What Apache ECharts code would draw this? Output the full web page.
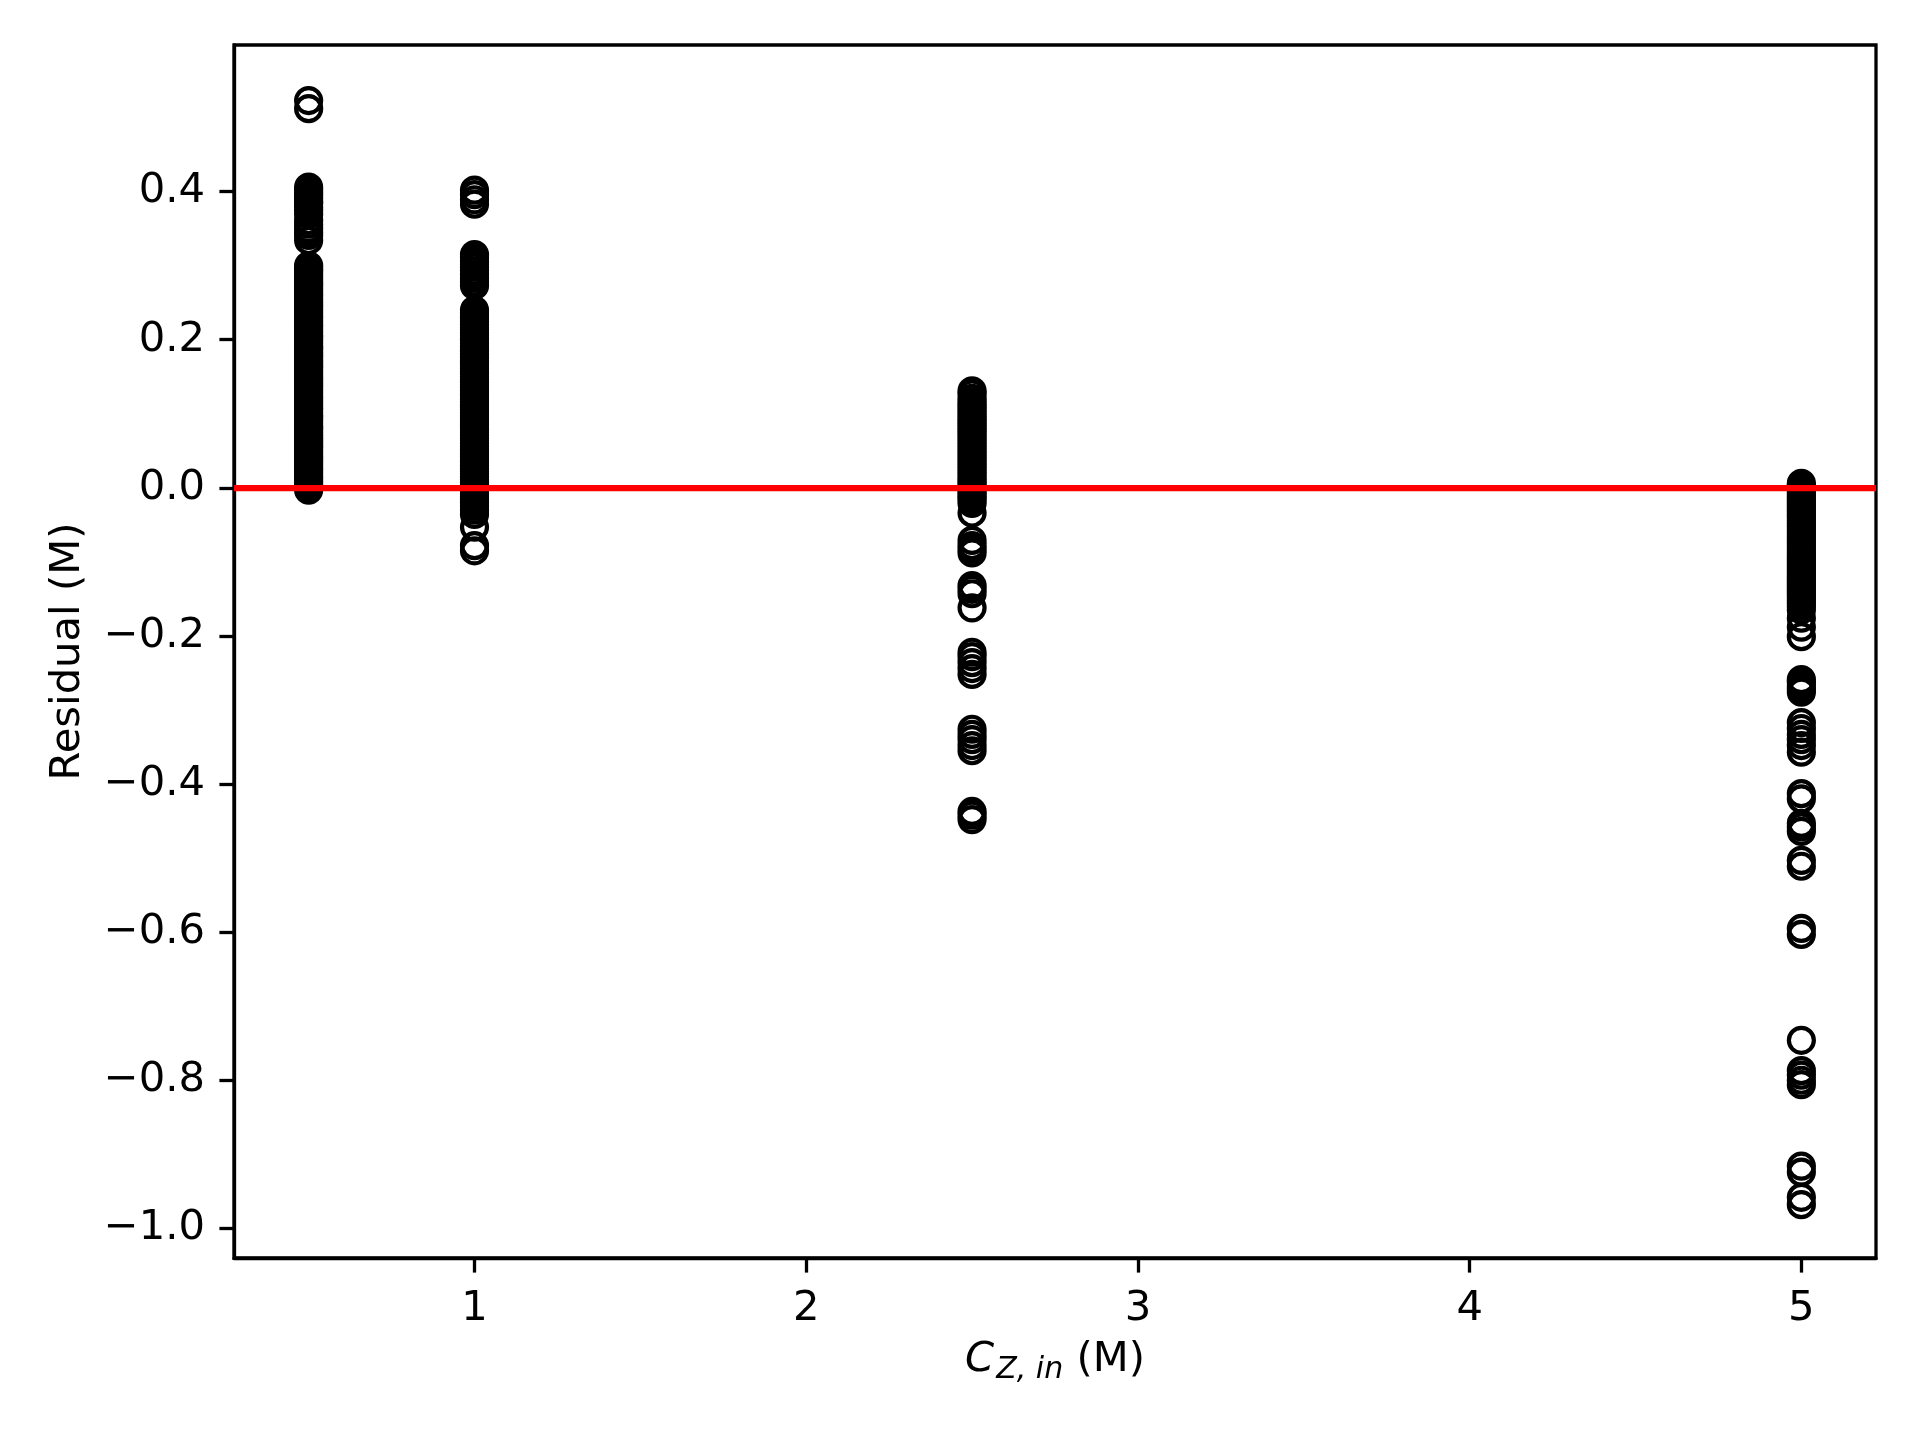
<!DOCTYPE html>
<html>
<head>
<meta charset="utf-8">
<script src="https://cdn.jsdelivr.net/npm/echarts@6/dist/echarts.min.js"></script>
<style>
html,body{margin:0;padding:0;background:#fff;}
#chart{width:1920px;height:1440px;}
</style>
</head>
<body>
<div id="chart"></div>
<script>
// x levels (C_Z,in in M)
const xLevels = [0.5, 1, 2.5, 5];

// residuals, one array per x level
const resid05 = [0.523, 0.512,
  0.406, 0.402, 0.398, 0.395, 0.391, 0.387, 0.384, 0.379, 0.375, 0.369, 0.361, 0.356, 0.350, 0.345, 0.341, 0.334,
  0.300, 0.296, 0.293, 0.289, 0.285, 0.281, 0.277, 0.274, 0.270, 0.266, 0.262, 0.259, 0.255, 0.251, 0.247, 0.244,
  0.240, 0.236, 0.232, 0.229, 0.225, 0.221, 0.218, 0.214, 0.210, 0.206, 0.203, 0.199, 0.195, 0.191, 0.188, 0.184,
  0.180, 0.177, 0.173, 0.169, 0.165, 0.162, 0.158, 0.154, 0.150, 0.147, 0.143, 0.139, 0.136, 0.132, 0.128, 0.124,
  0.121, 0.117, 0.113, 0.109, 0.106, 0.102, 0.098, 0.095, 0.091, 0.087, 0.083, 0.080, 0.076, 0.072, 0.068, 0.065,
  0.061, 0.057, 0.054, 0.050, 0.046, 0.042, 0.039, 0.035, 0.031, 0.027, 0.024, 0.020, 0.016, 0.013, 0.009, 0.005,
  0.001, -0.003];

const resid1 = [0.402, 0.396, 0.389, 0.383,
  0.315, 0.311, 0.306, 0.302, 0.298, 0.293, 0.288, 0.283, 0.278, 0.273,
  0.240, 0.236, 0.232, 0.229, 0.225, 0.221, 0.217, 0.214, 0.210, 0.206, 0.202, 0.199, 0.195, 0.191, 0.187, 0.184,
  0.180, 0.176, 0.172, 0.169, 0.165, 0.161, 0.157, 0.154, 0.150, 0.146, 0.142, 0.139, 0.135, 0.131, 0.127, 0.124,
  0.120, 0.116, 0.112, 0.109, 0.105, 0.101, 0.097, 0.094, 0.090, 0.086, 0.082, 0.079, 0.075, 0.071, 0.067, 0.064,
  0.060, 0.056, 0.052, 0.049, 0.045, 0.041, 0.037, 0.034, 0.030, 0.026, 0.022, 0.019, 0.015, 0.011, 0.007, 0.004,
  0.000, -0.004, -0.008, -0.012, -0.016, -0.020, -0.025, -0.030, -0.036, -0.053, -0.078, -0.085];

const resid25 = [0.131, 0.127, 0.121, 0.116, 0.112, 0.108, 0.104, 0.100, 0.096, 0.092, 0.088, 0.084, 0.080, 0.076,
  0.072, 0.068, 0.064, 0.060, 0.056, 0.052, 0.048, 0.044, 0.040, 0.036, 0.032, 0.028, 0.024, 0.020, 0.016, 0.012,
  0.008, 0.004, 0.000, -0.004, -0.008, -0.012, -0.016, -0.021, -0.034,
  -0.071, -0.078, -0.083, -0.088, -0.132, -0.137, -0.143, -0.162,
  -0.222, -0.228, -0.236, -0.244, -0.252, -0.326, -0.333, -0.340, -0.348, -0.355, -0.437, -0.442, -0.448];

const resid5 = [0.006, 0.003, 0.000, -0.004, -0.008, -0.012, -0.016, -0.020, -0.024, -0.028, -0.032, -0.036, -0.040,
  -0.044, -0.048, -0.052, -0.056, -0.060, -0.064, -0.068, -0.072, -0.076, -0.080, -0.084, -0.088, -0.092, -0.096,
  -0.100, -0.104, -0.108, -0.112, -0.116, -0.120, -0.124, -0.128, -0.132, -0.136, -0.140, -0.144, -0.148, -0.152,
  -0.156, -0.160, -0.165, -0.176, -0.188, -0.201,
  -0.259, -0.263, -0.268, -0.272, -0.276, -0.317, -0.325, -0.333, -0.340, -0.348, -0.357,
  -0.413, -0.420, -0.453, -0.458, -0.464, -0.503, -0.511, -0.595, -0.603,
  -0.746, -0.787, -0.793, -0.800, -0.806, -0.916, -0.924, -0.958, -0.968];

// tick labels
const xTicks = [1, 2, 3, 4, 5];
const yTicks = [-1.0, -0.8, -0.6, -0.4, -0.2, 0.0, 0.2, 0.4];
const refLineY = 0;

const groups = [resid05, resid1, resid25, resid5];
const points = [];
groups.forEach((arr, i) => arr.forEach(v => points.push([xLevels[i], v])));

const FONT = 'DejaVu Sans';
const FS = 41.7;
const chart = echarts.init(document.getElementById('chart'), null, {renderer: 'canvas'});

chart.setOption({
  animation: false,
  backgroundColor: '#fff',
  grid: {left: 234, right: 44, top: 45, bottom: 182, show: true, borderColor: '#000', borderWidth: 3.3, backgroundColor: 'transparent'},
  xAxis: {
    type: 'value', min: 0.275, max: 5.225,
    axisLine: {show: true, onZero: false, lineStyle: {color: '#000', width: 3.3}},
    axisTick: {show: true, length: 14.6, lineStyle: {color: '#000', width: 3.3}, customValues: xTicks},
    axisLabel: {color: '#000', fontFamily: FONT, fontSize: FS, margin: 30, customValues: xTicks,
      formatter: v => String(v)},
    splitLine: {show: false},
    name: '{i|C}{sub|Z, in} {r|(M)}',
    nameLocation: 'middle', nameGap: 74,
    nameTextStyle: {
      color: '#000', fontFamily: FONT, fontSize: FS,
      rich: {
        i: {fontFamily: FONT, fontSize: FS, fontStyle: 'italic', color: '#000'},
        sub: {fontFamily: FONT, fontSize: 30, fontStyle: 'italic', color: '#000', lineHeight: 36, padding: [20, 0, 0, 2]},
        r: {fontFamily: FONT, fontSize: FS, color: '#000'}
      }
    }
  },
  yAxis: {
    type: 'value', min: -1.04, max: 0.598,
    axisLine: {show: true, onZero: false, lineStyle: {color: '#000', width: 3.3}},
    axisTick: {show: true, length: 14.6, lineStyle: {color: '#000', width: 3.3}, customValues: yTicks},
    axisLabel: {color: '#000', fontFamily: FONT, fontSize: FS, margin: 29, customValues: yTicks,
      formatter: v => (v < -1e-9 ? '\u2212' : '') + Math.abs(v).toFixed(1)},
    splitLine: {show: false},
    name: 'Residual (M)', nameLocation: 'middle', nameGap: 145, nameRotate: 90,
    nameTextStyle: {color: '#000', fontFamily: FONT, fontSize: FS}
  },
  series: [
    {
      type: 'scatter', data: points, symbol: 'circle', symbolSize: 25,
      itemStyle: {color: 'rgba(0,0,0,0)', borderColor: '#000', borderWidth: 4.2, opacity: 1},
      emphasis: {disabled: true}, z: 2
    },
    {
      type: 'scatter', data: [], z: 5,
      markLine: {
        silent: true, symbol: ['none', 'none'], label: {show: false},
        lineStyle: {color: '#ff0000', width: 6.25, type: 'solid'},
        emphasis: {disabled: true},
        data: [{yAxis: refLineY}]
      }
    }
  ]
});
</script>
</body>
</html>
